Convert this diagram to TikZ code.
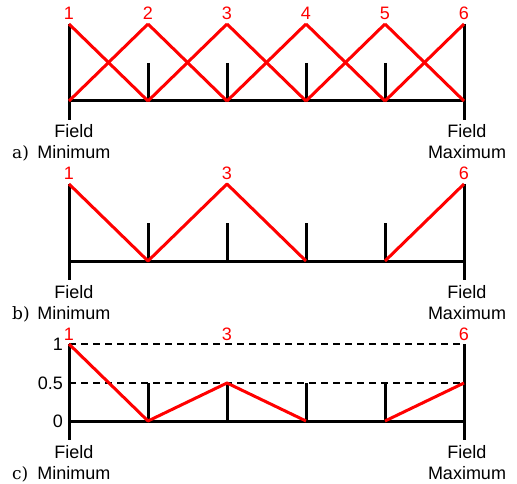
\documentclass[tikz,border=0pt]{standalone}
\usepackage{fontspec}
\newfontfamily\labelfont{Liberation Sans}
\newfontfamily\partfont{DejaVu Serif}
\begin{document}
\begin{tikzpicture}[x=1pt,y=-1pt,
    axisline/.style={line width=3pt},
    hatline/.style={line width=3pt,red,line join=round},
    refline/.style={line width=2.6pt,dash pattern=on 7pt off 5pt},
    nodelbl/.style={text=red,font=\labelfont\fontsize{18}{20}\selectfont,inner sep=0pt,anchor=base},
    endlbl/.style={font=\labelfont\fontsize{18}{20}\selectfont,inner sep=0pt,anchor=base},
    ticklbl/.style={font=\labelfont\fontsize{18}{20}\selectfont,inner sep=0pt,anchor=east},
    partlbl/.style={font=\partfont\fontsize{17}{20}\selectfont,inner sep=0pt,anchor=base west}]
  \useasboundingbox (0,0) rectangle (517,484);

  % a) all six hat functions
  \begin{scope}
    \foreach \i/\x in {1/69,2/148,3/227,4/306,5/385,6/464}{
      \coordinate (atop\i) at (\x,24);
      \coordinate (amid\i) at (\x,63);
      \coordinate (abot\i) at (\x,101);
      \node[nodelbl] (anum\i) at (\x,20) {\i};
    }
    \coordinate (aend1) at (69,120);
    \coordinate (aend6) at (464,120);
    \draw[axisline] (abot1) -- (abot6);
    \draw[axisline] (atop1) -- (aend1);
    \draw[axisline] (atop6) -- (aend6);
    \foreach \i in {2,...,5}
      \draw[axisline] (amid\i) -- (abot\i);
    \foreach \i/\j in {1/2,2/3,3/4,4/5,5/6}{
      \draw[hatline] (atop\i) -- (abot\j);
      \draw[hatline] (abot\i) -- (atop\j);
    }
    \node[endlbl] (afield1) at (74,138) {Field};
    \node[endlbl] (amin) at (74,159) {Minimum};
    \node[endlbl] (afield6) at (467,138) {Field};
    \node[endlbl] (amax) at (467,159) {Maximum};
    \node[partlbl] (apart) at (12,159) {a)};
  \end{scope}

  % b) only the nodes 1, 3 and 6
  \begin{scope}[shift={(0,160)}]
    \foreach \i/\x in {1/69,2/148,3/227,4/306,5/385,6/464}{
      \coordinate (btop\i) at (\x,24);
      \coordinate (bmid\i) at (\x,63);
      \coordinate (bbot\i) at (\x,101);
    }
    \foreach \i/\x in {1/69,3/227,6/464}
      \node[nodelbl] (bnum\i) at (\x,20) {\i};
    \coordinate (bend1) at (69,120);
    \coordinate (bend6) at (464,120);
    \draw[axisline] (bbot1) -- (bbot6);
    \draw[axisline] (btop1) -- (bend1);
    \draw[axisline] (btop6) -- (bend6);
    \foreach \i in {2,...,5}
      \draw[axisline] (bmid\i) -- (bbot\i);
    \draw[hatline] (btop1) -- (bbot2) -- (btop3) -- (bbot4);
    \draw[hatline] (bbot5) -- (btop6);
    \node[endlbl] (bfield1) at (74,138) {Field};
    \node[endlbl] (bmin) at (74,159) {Minimum};
    \node[endlbl] (bfield6) at (467,138) {Field};
    \node[endlbl] (bmax) at (467,159) {Maximum};
    \node[partlbl] (bpart) at (12,159) {b)};
  \end{scope}

  % c) weighted nodes
  \begin{scope}[shift={(0,320)}]
    \foreach \i/\x in {1/69,2/148,3/227,4/306,5/385,6/464}{
      \coordinate (ctop\i) at (\x,24);
      \coordinate (cmid\i) at (\x,63);
      \coordinate (cbot\i) at (\x,101);
    }
    \foreach \i/\x in {1/69,3/227,6/464}
      \node[nodelbl] (cnum\i) at (\x,20) {\i};
    \node[ticklbl] (cone) at (63,24) {1};
    \node[ticklbl] (chalf) at (63,63) {0.5};
    \node[ticklbl] (czero) at (63,101) {0};
    \draw[refline] (ctop1) -- (ctop6);
    \draw[refline] (cmid1) -- (cmid6);
    \coordinate (cend1) at (69,120);
    \coordinate (cend6) at (464,120);
    \draw[axisline] (cbot1) -- (cbot6);
    \draw[axisline] (ctop1) -- (cend1);
    \draw[axisline] (ctop6) -- (cend6);
    \foreach \i in {2,...,5}
      \draw[axisline] (cmid\i) -- (cbot\i);
    \draw[hatline] (ctop1) -- (cbot2) -- (cmid3) -- (cbot4);
    \draw[hatline] (cbot5) -- (cmid6);
    \node[endlbl] (cfield1) at (74,138) {Field};
    \node[endlbl] (cmin) at (74,159) {Minimum};
    \node[endlbl] (cfield6) at (467,138) {Field};
    \node[endlbl] (cmax) at (467,159) {Maximum};
    \node[partlbl] (cpart) at (12,159) {c)};
  \end{scope}
\end{tikzpicture}
\end{document}
